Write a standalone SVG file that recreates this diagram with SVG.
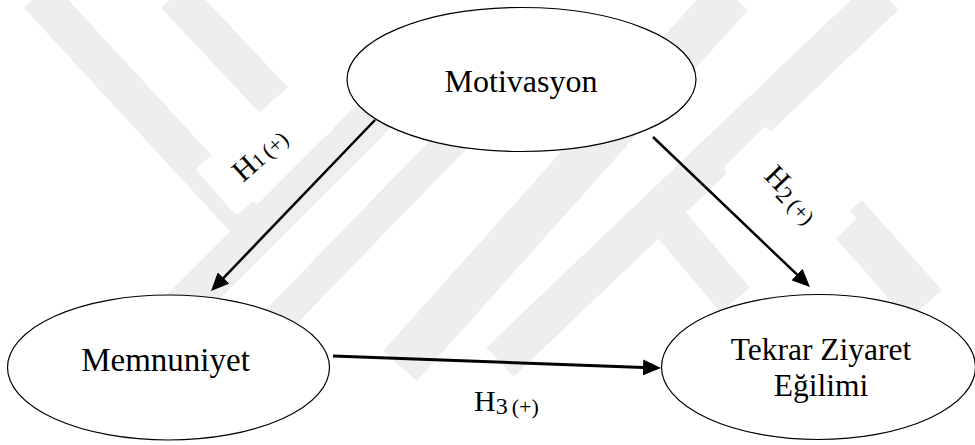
<svg xmlns="http://www.w3.org/2000/svg" width="975" height="445" viewBox="0 0 975 445">
<style>
.wm{stroke:#eeeeee;stroke-linecap:butt;fill:none}
.box{fill:#ffffff;stroke:none}
.node{fill:#ffffff;stroke:#000000;stroke-width:1.2}
.ntxt{font-family:"Liberation Serif","Times New Roman",serif;fill:#000000;text-anchor:middle}
.edge{stroke:#000000;stroke-width:2.5;fill:none;marker-end:url(#arr)}
.ltxt{font-family:"Liberation Serif","Times New Roman",serif;fill:#000000}
</style>
<defs>
<marker id="arr" markerUnits="userSpaceOnUse" markerWidth="18" markerHeight="16" refX="14" refY="8" orient="auto">
<path d="M0,0 L18,8 L0,16 z" fill="#000000"/>
</marker>
</defs>
<rect x="0" y="0" width="975" height="445" fill="#ffffff"/>
<g id="watermark">
<line class="wm" x1="38" y1="-5" x2="250" y2="225" stroke-width="38"/>
<line class="wm" x1="175" y1="-5" x2="285" y2="112" stroke-width="38"/>
<line class="wm" x1="170" y1="320" x2="380" y2="110" stroke-width="40"/>
<line class="wm" x1="475" y1="117" x2="245" y2="354" stroke-width="32"/>
<line class="wm" x1="731" y1="-5" x2="400" y2="366" stroke-width="45"/>
<line class="wm" x1="885" y1="-5" x2="500" y2="362" stroke-width="40"/>
<line class="wm" x1="655" y1="205" x2="735" y2="300" stroke-width="38"/>
<line class="wm" x1="845" y1="215" x2="925" y2="305" stroke-width="45"/>
</g>
<g id="label-boxes">
<rect class="box" x="-65.5" y="-31" width="131" height="62" rx="4" transform="translate(265,149) rotate(-41.6)"/>
<rect class="box" x="-65" y="-30" width="130" height="60" rx="4" transform="translate(790,193) rotate(45)"/>
</g>
<g id="node-motivasyon">
<ellipse class="node" cx="521.5" cy="79.5" rx="174.5" ry="72"/>
<text class="ntxt" x="521" y="92" font-size="32">Motivasyon</text>
</g>
<g id="node-memnuniyet">
<ellipse class="node" cx="168.5" cy="367.5" rx="161" ry="72.5"/>
<text class="ntxt" x="165.5" y="371" font-size="33">Memnuniyet</text>
</g>
<g id="node-tekrar">
<ellipse class="node" cx="818.5" cy="367" rx="157" ry="72.5"/>
<text class="ntxt" x="821" y="360" font-size="31.5">Tekrar Ziyaret</text>
<text class="ntxt" x="821" y="396" font-size="31.5">Eğilimi</text>
</g>
<g id="connectors">
<line class="edge" x1="375" y1="120" x2="213.8" y2="288.1"/>
<line class="edge" x1="653" y1="137" x2="807.1" y2="284.2"/>
<line class="edge" x1="333" y1="356" x2="657" y2="367.9" style="stroke-width:3"/>
<text class="ltxt" transform="translate(243,183) rotate(-41.6)" font-size="30">H<tspan font-size="20">1</tspan><tspan font-size="22" dx="4">(+)</tspan></text>
<text class="ltxt" transform="translate(763,177) rotate(46)" font-size="30">H<tspan font-size="24" dy="5">2</tspan><tspan font-size="22" dx="4" dy="-1">(+)</tspan></text>
<text class="ltxt" x="474" y="411" font-size="30">H<tspan font-size="24" dy="3">3</tspan><tspan font-size="22" dx="4">(+)</tspan></text>
</g>
</svg>
